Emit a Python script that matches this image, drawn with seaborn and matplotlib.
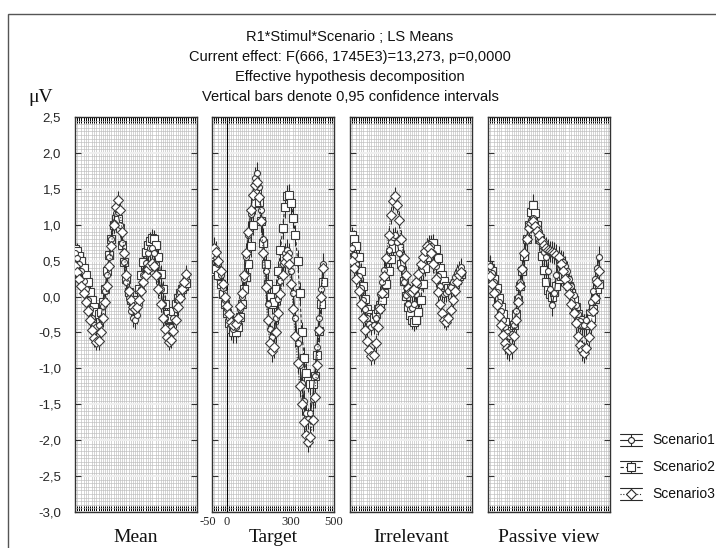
import numpy as np
import pandas as pd
import seaborn as sns
import matplotlib
matplotlib.use('Agg')
from matplotlib import pyplot as plt
from matplotlib.ticker import MultipleLocator, FuncFormatter
from matplotlib.lines import Line2D
from matplotlib.patches import Rectangle

# time points (ms) shared by every panel
times = [-70, -60, -50, -40, -30, -20, -10, 0, 10, 20, 30, 40, 50, 60, 70, 80, 90, 100, 110, 120,
         130, 140, 150, 160, 170, 180, 190, 200, 210, 220, 230, 240, 250, 260, 270, 280, 290, 300,
         310, 320, 330, 340, 350, 360, 370, 380, 390, 400, 410, 420, 430, 440, 450]

panels = ['Mean', 'Target', 'Irrelevant', 'Passive view']
scenarios = ['Scenario1', 'Scenario2', 'Scenario3']

mean_s1 = [0.6, 0.53, 0.45, 0.35, 0.22, 0.1, -0.05, -0.18, -0.3, -0.4, -0.43, -0.4, -0.3, -0.13, 0.08, 0.3,
           0.55, 0.8, 1.03, 1.17, 1.18, 1.0, 0.75, 0.48, 0.2, -0.02, -0.2, -0.3, -0.33, -0.26, -0.1, 0.1,
           0.3, 0.47, 0.6, 0.67, 0.68, 0.6, 0.46, 0.3, 0.1, -0.1, -0.3, -0.42, -0.46, -0.42, -0.3, -0.17,
           -0.05, 0.06, 0.14, 0.2, 0.27]
mean_s2 = [0.66, 0.63, 0.57, 0.5, 0.4, 0.3, 0.2, 0.07, -0.05, -0.15, -0.22, -0.25, -0.22, -0.08, 0.1, 0.35,
           0.58, 0.8, 1.0, 1.08, 1.08, 0.95, 0.72, 0.48, 0.25, 0.07, -0.05, -0.12, -0.12, -0.05, 0.1, 0.3,
           0.48, 0.62, 0.72, 0.78, 0.82, 0.8, 0.72, 0.55, 0.32, 0.1, -0.1, -0.24, -0.31, -0.3, -0.2, -0.1,
           -0.02, 0.05, 0.1, 0.15, 0.19]
mean_s3 = [0.42, 0.34, 0.25, 0.15, 0.05, -0.07, -0.2, -0.33, -0.46, -0.58, -0.63, -0.62, -0.5, -0.3, -0.08, 0.15,
           0.42, 0.7, 1.0, 1.25, 1.35, 1.2, 0.9, 0.6, 0.3, 0.08, -0.05, -0.15, -0.18, -0.14, -0.05, 0.08,
           0.2, 0.3, 0.38, 0.44, 0.47, 0.42, 0.3, 0.1, -0.1, -0.3, -0.45, -0.57, -0.63, -0.6, -0.48, -0.32,
           -0.15, -0.02, 0.1, 0.2, 0.32]

target_s1 = [0.55, 0.6, 0.55, 0.45, 0.3, 0.12, -0.05, -0.18, -0.3, -0.4, -0.45, -0.43, -0.35, -0.18, 0.0, 0.25,
             0.55, 0.85, 1.15, 1.42, 1.65, 1.72, 1.52, 1.2, 0.8, 0.35, -0.1, -0.45, -0.56, -0.5, -0.3, -0.03,
             0.22, 0.45, 0.6, 0.65, 0.6, 0.35, 0.05, -0.3, -0.65, -0.95, -1.2, -1.45, -1.62, -1.7, -1.62, -1.42,
             -1.1, -0.7, -0.3, 0.1, 0.45]
target_s2 = [0.35, 0.4, 0.38, 0.3, 0.17, 0.03, -0.1, -0.23, -0.37, -0.45, -0.5, -0.49, -0.42, -0.28, -0.1, 0.1,
             0.27, 0.45, 0.7, 1.0, 1.3, 1.45, 1.32, 1.05, 0.75, 0.45, 0.18, 0.0, -0.1, -0.08, 0.1, 0.35,
             0.65, 0.95, 1.25, 1.4, 1.42, 1.3, 1.1, 0.85, 0.5, 0.05, -0.5, -0.85, -1.07, -1.18, -1.22, -1.22,
             -1.1, -0.82, -0.48, -0.1, 0.2]
target_s3 = [0.6, 0.68, 0.62, 0.5, 0.35, 0.17, 0.0, -0.13, -0.25, -0.35, -0.4, -0.38, -0.3, -0.13, 0.05, 0.3,
             0.6, 0.9, 1.2, 1.42, 1.56, 1.6, 1.38, 1.05, 0.6, 0.13, -0.33, -0.65, -0.76, -0.7, -0.5, -0.23,
             0.03, 0.3, 0.48, 0.55, 0.45, 0.17, -0.18, -0.55, -0.92, -1.25, -1.5, -1.75, -1.93, -2.02, -1.95, -1.72,
             -1.4, -0.95, -0.47, 0.0, 0.4]

irrel_s1 = [0.65, 0.67, 0.58, 0.45, 0.28, 0.12, -0.05, -0.18, -0.3, -0.38, -0.42, -0.4, -0.3, -0.14, 0.03, 0.2,
            0.37, 0.52, 0.65, 0.76, 0.83, 0.85, 0.76, 0.6, 0.4, 0.2, 0.02, -0.1, -0.17, -0.16, -0.1, 0.03,
            0.18, 0.35, 0.49, 0.6, 0.7, 0.73, 0.7, 0.6, 0.43, 0.28, 0.15, 0.07, 0.04, 0.05, 0.08, 0.13,
            0.2, 0.27, 0.33, 0.38, 0.41]
irrel_s2 = [0.8, 0.85, 0.8, 0.7, 0.55, 0.35, 0.15, -0.03, -0.17, -0.25, -0.29, -0.3, -0.25, -0.18, -0.12, -0.05,
            0.05, 0.18, 0.35, 0.52, 0.68, 0.8, 0.8, 0.67, 0.45, 0.22, 0.01, -0.15, -0.26, -0.33, -0.36, -0.33,
            -0.22, -0.05, 0.18, 0.4, 0.55, 0.66, 0.73, 0.75, 0.66, 0.53, 0.4, 0.3, 0.21, 0.15, 0.12, 0.12,
            0.15, 0.18, 0.23, 0.28, 0.31]
irrel_s3 = [0.5, 0.49, 0.4, 0.25, 0.08, -0.1, -0.3, -0.47, -0.62, -0.75, -0.83, -0.82, -0.65, -0.42, -0.18, 0.05,
            0.28, 0.53, 0.85, 1.13, 1.33, 1.4, 1.28, 1.07, 0.8, 0.53, 0.3, 0.12, 0.06, 0.06, 0.1, 0.2,
            0.32, 0.45, 0.55, 0.64, 0.7, 0.68, 0.6, 0.45, 0.25, 0.06, -0.1, -0.23, -0.32, -0.35, -0.3, -0.19,
            -0.05, 0.08, 0.2, 0.3, 0.34]

passive_s1 = [0.45, 0.43, 0.33, 0.2, 0.07, -0.07, -0.2, -0.32, -0.43, -0.5, -0.55, -0.52, -0.4, -0.2, 0.0, 0.2,
              0.4, 0.6, 0.8, 0.95, 1.06, 1.1, 1.03, 0.9, 0.78, 0.7, 0.62, 0.55, 0.35, 0.1, -0.12, 0.05,
              0.3, 0.45, 0.5, 0.48, 0.42, 0.35, 0.25, 0.15, 0.02, -0.12, -0.24, -0.34, -0.4, -0.4, -0.33, -0.22,
              -0.08, 0.08, 0.25, 0.4, 0.55]
passive_s2 = [0.35, 0.4, 0.35, 0.25, 0.12, -0.02, -0.15, -0.25, -0.36, -0.45, -0.5, -0.48, -0.4, -0.24, -0.05, 0.15,
              0.35, 0.56, 0.8, 1.0, 1.18, 1.28, 1.17, 1.0, 0.8, 0.57, 0.37, 0.2, 0.09, 0.03, 0.0, 0.06,
              0.15, 0.25, 0.29, 0.3, 0.28, 0.23, 0.15, 0.05, -0.05, -0.15, -0.25, -0.32, -0.38, -0.4, -0.39, -0.35,
              -0.3, -0.17, -0.03, 0.1, 0.18]
passive_s3 = [0.3, 0.28, 0.18, 0.05, -0.12, -0.27, -0.4, -0.54, -0.65, -0.72, -0.75, -0.72, -0.55, -0.32, -0.08, 0.15,
              0.38, 0.6, 0.8, 0.95, 1.03, 1.05, 0.98, 0.91, 0.85, 0.78, 0.72, 0.68, 0.65, 0.63, 0.62, 0.61,
              0.58, 0.55, 0.45, 0.35, 0.25, 0.15, 0.03, -0.1, -0.23, -0.37, -0.55, -0.67, -0.75, -0.78, -0.72, -0.57,
              -0.4, -0.2, -0.02, 0.2, 0.36]

# half width of the 0,95 confidence bars per panel
ci_half = [0.12, 0.15, 0.12, 0.15]

title_lines = ['R1*Stimul*Scenario ; LS Means',
               'Current effect: F(666, 1745E3)=13,273, p=0,0000',
               'Effective hypothesis decomposition',
               'Vertical bars denote 0,95 confidence intervals']
target_xticks = [-50, 0, 300, 500]
target_xlabels = ['-50', '0', '300', '500']

series = {
    'Mean': [mean_s1, mean_s2, mean_s3],
    'Target': [target_s1, target_s2, target_s3],
    'Irrelevant': [irrel_s1, irrel_s2, irrel_s3],
    'Passive view': [passive_s1, passive_s2, passive_s3],
}

rows = []
for p_i, panel in enumerate(panels):
    for sc, vals in zip(scenarios, series[panel]):
        for t, v in zip(times, vals):
            rows.append({'panel': panel, 'scenario': sc, 'time': t, 'value': v,
                         'lo': v - ci_half[p_i], 'hi': v + ci_half[p_i]})
df = pd.DataFrame(rows)

sns.set_theme(style='white')
plt.rcParams['font.family'] = ['Liberation Sans', 'DejaVu Sans']

W, H = 716, 548
fig = plt.figure(figsize=(W / 100, H / 100), dpi=100)

panel_left = [75, 212, 350, 488]
panel_w = 122
top_px, bottom_px = 117, 512

marker_of = {'Scenario1': 'o', 'Scenario2': 's', 'Scenario3': 'D'}
msize_of = {'Scenario1': 4.3, 'Scenario2': 5.8, 'Scenario3': 4.7}
ls_of = {'Scenario1': '-', 'Scenario2': (0, (3, 2)), 'Scenario3': (0, (1, 1.5))}
draw_order = ['Scenario2', 'Scenario1', 'Scenario3']
ink = '#2a2a2a'
serif = ['Liberation Serif', 'DejaVu Serif']

fmt = FuncFormatter(lambda v, p: f'{v:.1f}'.replace('.', ','))

for p_i, panel in enumerate(panels):
    ax = fig.add_axes([panel_left[p_i] / W, 1 - bottom_px / H, panel_w / W, (bottom_px - top_px) / H])
    sub = df[df['panel'] == panel]

    ax.set_xlim(-70, 500)
    ax.set_ylim(-3.0, 2.5)
    ax.set_facecolor('white')

    # fine grid mesh
    ax.yaxis.set_major_locator(MultipleLocator(0.5))
    ax.yaxis.set_minor_locator(MultipleLocator(0.05))
    ax.set_xticks(target_xticks, labels=target_xlabels)
    ax.xaxis.set_minor_locator(MultipleLocator(10))
    ax.grid(which='minor', color='#bcbcbc', lw=0.45)
    ax.grid(which='major', axis='y', color='#f0f0f0', lw=1.3)
    ax.grid(which='major', axis='x', visible=False)
    ax.set_axisbelow(True)

    for sc in scenarios:
        s = sub[sub['scenario'] == sc]
        ax.vlines(s['time'], s['lo'], s['hi'], color=ink, lw=0.8, zorder=2)

    for sc in draw_order:
        s = sub[sub['scenario'] == sc]
        sns.lineplot(data=s, x='time', y='value', ax=ax, color=ink, lw=0.8, linestyle=ls_of[sc],
                     marker=marker_of[sc], markersize=msize_of[sc], markerfacecolor='white',
                     markeredgecolor='#3a3a3a', markeredgewidth=0.8, sort=False, errorbar=None,
                     legend=False, zorder=3)

    if panel == 'Target':
        ax.axvline(0, color='black', lw=0.8, zorder=2.5)

    ax.set_xlabel('')
    ax.set_ylabel('')
    ax.tick_params(axis='x', which='both', direction='in', top=True, bottom=True, length=4,
                   width=0.7, color='black', labelbottom=(panel == 'Target'), labelsize=9, pad=3)
    ax.tick_params(axis='y', which='major', direction='in', left=True, right=True, length=4,
                   width=0.8, color='#333333', labelleft=(p_i == 0), labelsize=9.5, pad=10)
    ax.tick_params(axis='y', which='minor', length=0)
    ax.yaxis.set_major_formatter(fmt)
    if panel == 'Target':
        labs = ax.get_xticklabels()
        for lab in labs:
            lab.set_fontfamily(serif)
        labs[0].set_horizontalalignment('right')
    for sp in ax.spines.values():
        sp.set_color('#333333')
        sp.set_linewidth(1.0)

    fig.text((panel_left[p_i] + panel_w / 2) / W, 1 - 537 / H, panel, ha='center', va='center',
             fontsize=14, family=serif, color='#111111')

# titles
for i, line in enumerate(title_lines):
    fig.text(350 / W, 1 - (37 + 20 * i) / H, line, ha='center', va='center', fontsize=10.5, color='#111111')

fig.text(28 / W, 1 - 97 / H, '\u03bcV', ha='left', va='center', fontsize=14, family=serif, color='#111111')

# outer frame
fig.add_artist(Rectangle((8 / W, -0.1), 1.2, 1.1 - 14 / H, transform=fig.transFigure,
                         fill=False, ec='#555555', lw=1.0))

# legend drawn by hand: line with marker and wide confidence caps
leg_y = [440, 467, 494]
for sc, yy in zip(scenarios, leg_y):
    yf = 1 - yy / H
    x0, x1, xc = 620 / W, 642 / W, 631 / W
    dy = 6 / H
    fig.add_artist(Line2D([x0, x1], [yf, yf], transform=fig.transFigure, color=ink, lw=0.8,
                          linestyle=ls_of[sc]))
    fig.add_artist(Line2D([x0, x1], [yf + dy, yf + dy], transform=fig.transFigure, color=ink, lw=0.8))
    fig.add_artist(Line2D([x0, x1], [yf - dy, yf - dy], transform=fig.transFigure, color=ink, lw=0.8))
    fig.add_artist(Line2D([xc, xc], [yf - dy, yf + dy], transform=fig.transFigure, color=ink, lw=0.8))
    fig.add_artist(Line2D([xc], [yf], transform=fig.transFigure, marker=marker_of[sc],
                          markersize=msize_of[sc], markerfacecolor='white', markeredgecolor=ink,
                          markeredgewidth=0.8, linestyle='none'))
    fig.text(652 / W, yf, sc, ha='left', va='center', fontsize=10, color='#111111')

fig.savefig('out.png', dpi=100, facecolor='white')
